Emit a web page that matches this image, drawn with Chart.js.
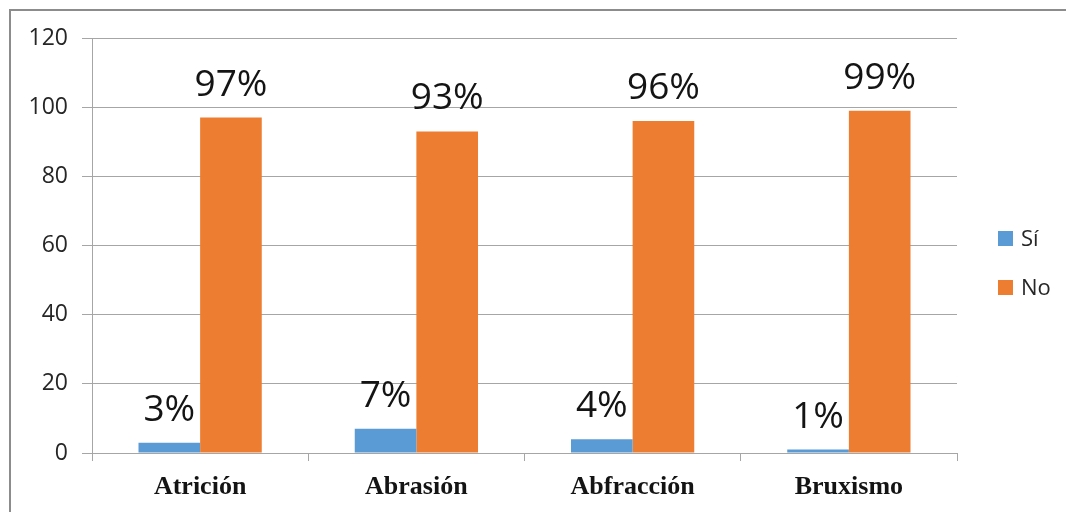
<!DOCTYPE html>
<html lang="es">
<head>
<meta charset="utf-8">
<title>Desgaste dental</title>
<script src="https://cdn.jsdelivr.net/npm/chart.js@4.4.1/dist/chart.umd.min.js"></script>
<style>
  html, body { margin: 0; padding: 0; background: #ffffff; }
  #wrap { width: 1066px; height: 512px; }
</style>
</head>
<body>
<div id="wrap"><canvas id="chartDesgaste" width="1066" height="512"></canvas></div>
<script>
// Datos de la encuesta (porcentajes por tipo de lesión)
const categorias = ["Atrición", "Abrasión", "Abfracción", "Bruxismo"];
const valoresSi = [3, 7, 4, 1];
const valoresNo = [97, 93, 96, 99];
const etiquetasSerie = ["Sí", "No"];
const ejeY = { min: 0, max: 120, paso: 20 };

const COLOR_SI = "#5B9BD5";
const COLOR_NO = "#ED7D31";
const GRIS = "#a6a6a6";

// Marco gris alrededor del gráfico (solo borde izquierdo y superior visibles)
const marcoPlugin = {
  id: "marco",
  beforeDraw(chart) {
    const ctx = chart.ctx;
    ctx.save();
    ctx.fillStyle = "#ffffff";
    ctx.fillRect(0, 0, chart.width, chart.height);
    ctx.strokeStyle = "#8c8c8c";
    ctx.lineWidth = 2;
    ctx.beginPath();
    ctx.moveTo(10, chart.height + 2);
    ctx.lineTo(10, 10);
    ctx.lineTo(chart.width + 2, 10);
    ctx.stroke();
    ctx.restore();
  },
};

// Etiquetas de porcentaje encima de cada barra
const etiquetasPlugin = {
  id: "etiquetasValor",
  afterDatasetsDraw(chart) {
    const ctx = chart.ctx;
    ctx.save();
    ctx.font = '37px "Open Sans", "Liberation Sans", sans-serif';
    ctx.fillStyle = "#141414";
    ctx.textAlign = "center";
    ctx.textBaseline = "alphabetic";
    chart.data.datasets.forEach((ds, i) => {
      const meta = chart.getDatasetMeta(i);
      meta.data.forEach((bar, j) => {
        ctx.fillText(ds.data[j] + "%", bar.x, bar.y - 22);
      });
    });
    ctx.restore();
  },
};

// Leyenda a la derecha, dibujada a mano
const leyendaPlugin = {
  id: "leyendaDerecha",
  afterDraw(chart) {
    const ctx = chart.ctx;
    const x0 = 998;
    const ys = [231, 280];
    ctx.save();
    ctx.font = '22px "Open Sans", "Liberation Sans", sans-serif';
    ctx.textBaseline = "alphabetic";
    ctx.textAlign = "left";
    chart.data.datasets.forEach((ds, i) => {
      ctx.fillStyle = ds.backgroundColor;
      ctx.fillRect(x0, ys[i], 15, 15);
      ctx.fillStyle = "#262626";
      ctx.fillText(ds.label, x0 + 23, ys[i] + 15);
    });
    ctx.restore();
  },
};

const ctx = document.getElementById("chartDesgaste").getContext("2d");
new Chart(ctx, {
  type: "bar",
  data: {
    labels: categorias,
    datasets: [
      {
        label: etiquetasSerie[0],
        data: valoresSi,
        backgroundColor: COLOR_SI,
        categoryPercentage: 0.57,
        barPercentage: 1.0,
      },
      {
        label: etiquetasSerie[1],
        data: valoresNo,
        backgroundColor: COLOR_NO,
        categoryPercentage: 0.57,
        barPercentage: 1.0,
      },
    ],
  },
  options: {
    responsive: false,
    devicePixelRatio: 1,
    animation: false,
    layout: { padding: { left: 0, top: 38, right: 109, bottom: 0 } },
    plugins: {
      legend: { display: false },
      tooltip: { enabled: false },
    },
    scales: {
      x: {
        offset: true,
        grid: {
          offset: true,
          drawOnChartArea: false,
          tickLength: 8,
          color: GRIS,
        },
        border: { color: GRIS },
        ticks: {
          color: "#141414",
          padding: 11,
          font: { family: '"Liberation Serif", "Times New Roman", serif', size: 26, weight: "bold" },
        },
        afterFit(scale) {
          scale.height = 59;
        },
      },
      y: {
        min: ejeY.min,
        max: ejeY.max,
        ticks: {
          stepSize: ejeY.paso,
          color: "#262626",
          padding: 14,
          font: { family: '"Open Sans", "Liberation Sans", sans-serif', size: 23 },
        },
        grid: { color: GRIS, tickLength: 10 },
        border: { color: GRIS },
        afterFit(scale) {
          scale.width = 92;
        },
      },
    },
  },
  plugins: [marcoPlugin, etiquetasPlugin, leyendaPlugin],
});
</script>
</body>
</html>
